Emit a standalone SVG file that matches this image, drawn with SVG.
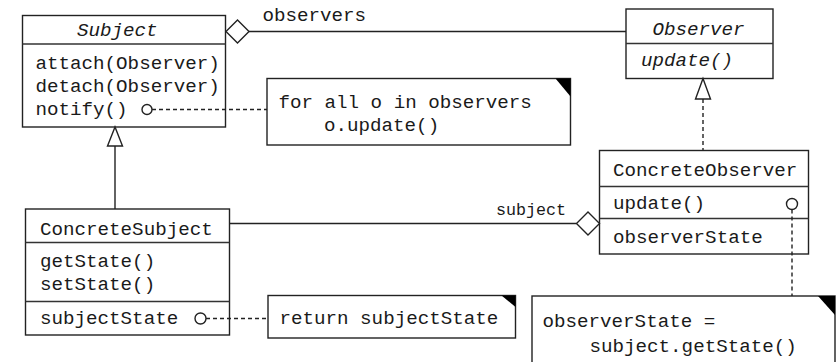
<svg xmlns="http://www.w3.org/2000/svg" width="836" height="362" viewBox="0 0 836 362">
  <style>
    .box { fill: #fff; stroke: #222; stroke-width: 1.4; }
    .sep { stroke: #333; stroke-width: 1.4; }
    .t { font-family: "Liberation Mono", "Courier New", monospace; font-size: 19.2px; fill: #1a1a1a; }
    .i { font-style: italic; }
    .sm { font-size: 16.7px; }
    .line { fill: none; stroke: #222; stroke-width: 1.4; }
    .dash { fill: none; stroke: #222; stroke-width: 1.4; stroke-dasharray: 4 3; }
    .open { fill: #fff; stroke: #222; stroke-width: 1.4; }
    .fold { fill: #000; }
  </style>

  <g id="Subject">
    <rect class="box" x="22.5" y="15.5" width="203" height="111.5"/>
    <line class="sep" x1="22.5" y1="44" x2="225.5" y2="44"/>
    <text class="t i" x="77" y="36">Subject</text>
    <text class="t" x="35.5" y="69">attach(Observer)</text>
    <text class="t" x="35.5" y="92">detach(Observer)</text>
    <text class="t" x="35.5" y="115">notify()</text>
  </g>

  <g id="Observer">
    <rect class="box" x="626" y="9" width="147" height="69.5"/>
    <line class="sep" x1="626" y1="43.5" x2="773" y2="43.5"/>
    <text class="t i" x="652.5" y="35">Observer</text>
    <text class="t i" x="641" y="66">update()</text>
  </g>

  <g id="ConcreteSubject">
    <rect class="box" x="25.5" y="209" width="204" height="126"/>
    <line class="sep" x1="25.5" y1="242.5" x2="229.5" y2="242.5"/>
    <line class="sep" x1="25.5" y1="301.5" x2="229.5" y2="301.5"/>
    <text class="t" x="40" y="235">ConcreteSubject</text>
    <text class="t" x="40" y="267">getState()</text>
    <text class="t" x="40" y="290">setState()</text>
    <text class="t" x="40" y="323.5">subjectState</text>
  </g>

  <g id="ConcreteObserver">
    <rect class="box" x="599.5" y="150.5" width="209" height="103.5"/>
    <line class="sep" x1="599.5" y1="186.5" x2="808.5" y2="186.5"/>
    <line class="sep" x1="599.5" y1="218.5" x2="808.5" y2="218.5"/>
    <text class="t" x="613" y="176">ConcreteObserver</text>
    <text class="t" x="613" y="209">update()</text>
    <text class="t" x="613" y="242.5">observerState</text>
  </g>

  <g id="note-notify">
    <rect class="box" x="267" y="78.5" width="303.5" height="66.5"/>
    <polygon class="fold" points="555.5,78.5 570.5,78.5 570.5,96.5"/>
    <text class="t" x="278.5" y="108">for all o in observers</text>
    <text class="t" x="324" y="130.5">o.update()</text>
  </g>

  <g id="note-getState">
    <rect class="box" x="268" y="295.5" width="247.5" height="42.5"/>
    <polygon class="fold" points="501.5,295.5 515.5,295.5 515.5,307"/>
    <text class="t" x="279.5" y="323.5">return subjectState</text>
  </g>

  <g id="note-update">
    <rect class="box" x="532" y="296" width="303" height="80"/>
    <polygon class="fold" points="818,296 835,296 835,315"/>
    <text class="t" x="542.5" y="327">observerState =</text>
    <text class="t" x="589.5" y="351.5">subject.getState()</text>
  </g>

  <!-- connectors: associations, inheritance, note links (drawn on top of boxes) -->
  <g id="connectors">
    <!-- Subject <>—— Observer (observers) -->
    <line class="line" x1="249" y1="31.5" x2="626" y2="31.5"/>
    <polygon class="open" points="226,31.5 237.5,20 249,31.5 237.5,43"/>
    <text class="t" x="262.5" y="21">observers</text>

    <!-- ConcreteSubject —— ConcreteObserver (subject) -->
    <line class="line" x1="229.5" y1="223.5" x2="576.5" y2="223.5"/>
    <polygon class="open" points="576.5,223.5 588,212 599.5,223.5 588,235"/>
    <text class="t sm" x="496" y="214.5">subject</text>

    <!-- ConcreteSubject inherits Subject -->
    <line class="line" x1="115" y1="146" x2="115" y2="209"/>
    <polygon class="open" points="115,127 107.5,146 122.5,146"/>

    <!-- ConcreteObserver realizes Observer -->
    <line class="dash" x1="703" y1="99" x2="703" y2="150.5"/>
    <polygon class="open" points="703,78.5 695.5,99 710.5,99"/>

    <!-- note links -->
    <line class="dash" x1="152" y1="109.5" x2="267" y2="109.5"/>
    <circle class="open" cx="147" cy="109.5" r="5"/>
    <line class="dash" x1="206" y1="318.5" x2="268" y2="318.5"/>
    <circle class="open" cx="200.5" cy="318.5" r="5.5"/>
    <line class="dash" x1="792" y1="209.5" x2="792" y2="296"/>
    <circle class="open" cx="792" cy="204" r="5.5"/>
  </g>
</svg>
